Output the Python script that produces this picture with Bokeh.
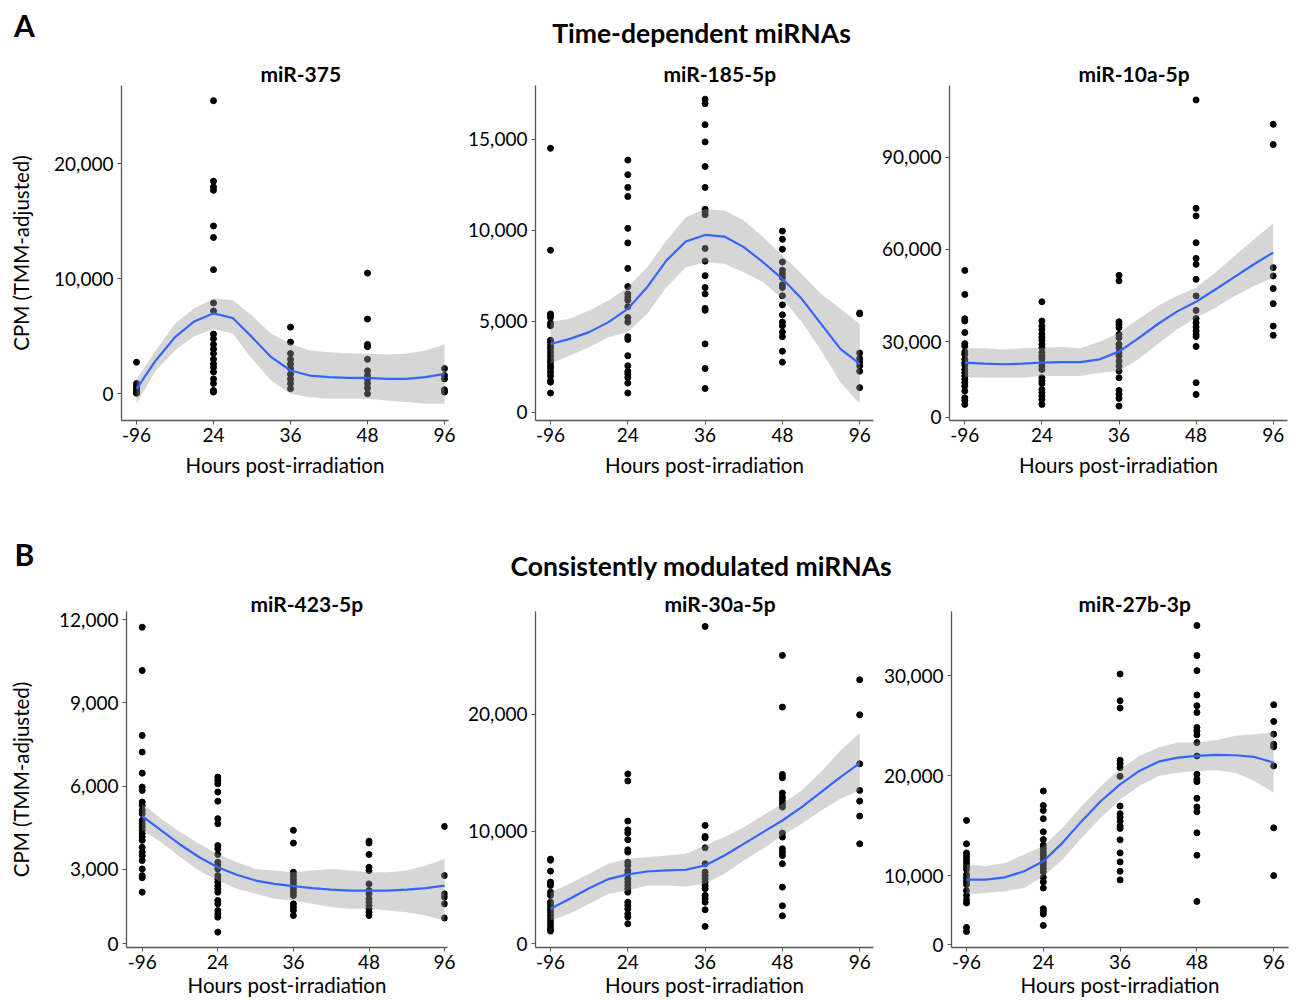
from bokeh.plotting import figure
from bokeh.models import Range1d, FixedTicker
from bokeh.layouts import column, row
from bokeh.embed import file_html
from bokeh.resources import INLINE
from bokeh.core.properties import value

FONT = "Lato"

# ---------------- data ----------------
hours = ["-96", "24", "36", "48", "96"]
x_label = "Hours post-irradiation"
y_label = "CPM (TMM-adjusted)"
section_a = "Time-dependent miRNAs"
section_b = "Consistently modulated miRNAs"
names = ["miR-375", "miR-185-5p", "miR-10a-5p", "miR-423-5p", "miR-30a-5p", "miR-27b-3p"]

# positions (in category units) where the smooth curve was read
fit_pos = [1.0, 1.25, 1.5, 1.75, 2.0, 2.25, 2.5, 2.75, 3.0, 3.25, 3.5, 3.75, 4.0, 4.25, 4.5, 4.75, 5.0]

# miR-375
mir375_pts = [
    [2750, 900, 700, 500, 350, 200, 100, 50],
    [25500, 18500, 18000, 17700, 14600, 13600, 10800, 7900, 7200, 5200, 4800, 4300, 3900, 3500, 3000, 2600, 2300, 1900, 1300, 900, 300, 150],
    [5800, 4500, 3500, 3000, 2600, 2200, 1700, 1300, 900, 450],
    [10500, 6500, 4300, 4100, 3000, 2000, 1600, 1300, 900, 500, 0],
    [2200, 1600, 1300, 350, 150],
]
mir375_fit = [430, 2900, 4930, 6300, 7000, 6600, 4930, 3190, 2030, 1590, 1450, 1390, 1390, 1300, 1300, 1450, 1740]
mir375_hi = [1300, 3770, 6090, 7450, 8300, 8150, 6810, 5220, 4350, 3770, 3620, 3540, 3480, 3420, 3480, 3770, 4290]
mir375_lo = [-870, 2030, 3770, 5000, 5650, 5250, 3040, 1160, 0, -290, -430, -430, -430, -580, -720, -870, -870]

# miR-185-5p
mir185_pts = [
    [14500, 8900, 5400, 5300, 5200, 4900, 4750, 3950, 3850, 3650, 3500, 3300, 3100, 2900, 2750, 2550, 2400, 2200, 2000, 1750, 1650, 1050],
    [13850, 13050, 12350, 11850, 10100, 9300, 7900, 6900, 6500, 6300, 6150, 5800, 5200, 4950, 4150, 4000, 3100, 2550, 2250, 2100, 1900, 1600, 1050],
    [17200, 16950, 15800, 14850, 13500, 12350, 11150, 11000, 10850, 9000, 8300, 7500, 6850, 6500, 5700, 5600, 3750, 2400, 1300],
    [9950, 9500, 8950, 8250, 7800, 7600, 7400, 7000, 6850, 6400, 5900, 5350, 4950, 4750, 4400, 4150, 3350, 2750],
    [5450, 5400, 3250, 2950, 2750, 2550, 2250, 1350],
]
mir185_fit = [3750, 4030, 4400, 4950, 5680, 6870, 8330, 9380, 9740, 9650, 9070, 8240, 7330, 6230, 4850, 3480, 2660]
mir185_hi = [4950, 5130, 5590, 6140, 6870, 7970, 9430, 10710, 11170, 11080, 10530, 9620, 8610, 7600, 6500, 5680, 4850]
mir185_lo = [2660, 3110, 3570, 4120, 4400, 5400, 6870, 7970, 8240, 8150, 7690, 7140, 6230, 4950, 3390, 1650, 460]

# miR-10a-5p
mir10a_pts = [
    [53200, 45400, 37500, 36750, 33000, 29400, 28600, 26700, 25900, 24300, 23200, 22400, 21000, 19950, 18900, 17800, 16700, 15600, 14000, 11800, 10950, 9650],
    [43000, 36750, 35100, 34000, 32600, 31500, 30500, 29200, 28100, 26500, 25400, 24500, 23200, 22100, 21000, 18300, 17200, 16400, 14500, 13400, 12400, 11300, 9650],
    [51600, 49800, 36500, 35700, 34600, 32400, 31300, 29200, 28100, 26500, 25400, 23700, 22100, 20500, 18300, 14200, 12900, 11600, 9100],
    [108600, 73400, 70900, 62200, 57100, 55200, 50300, 44900, 40200, 37600, 36200, 34800, 33500, 32400, 31700, 28500, 16700, 12900],
    [100700, 94100, 54100, 51400, 47300, 42400, 35100, 32100],
]
mir10a_fit = [23200, 22900, 22700, 22900, 23200, 23400, 23400, 24300, 26800, 31100, 35700, 39800, 43000, 47000, 51100, 55200, 59000]
mir10a_hi = [27900, 27900, 27500, 27900, 28100, 28300, 27900, 30000, 32950, 37300, 41600, 44900, 47600, 52500, 57900, 63300, 68400]
mir10a_lo = [18500, 18300, 18300, 18300, 18900, 18900, 18900, 19900, 20500, 24300, 29200, 34000, 37800, 41100, 44900, 48100, 50800]

# miR-423-5p
mir423_pts = [
    [11730, 10170, 7830, 7230, 6470, 5970, 5850, 5430, 5310, 5130, 5010, 4770, 4650, 4530, 4410, 4290, 4170, 4050, 3800, 3620, 3500, 3320, 3020, 2780, 2700, 2180],
    [6330, 6210, 6090, 5790, 5460, 4830, 4650, 3860, 3740, 3540, 3260, 3140, 3020, 2780, 2660, 2540, 2420, 2300, 2180, 1880, 1760, 1520, 1400, 1280, 740],
    [4410, 3950, 2900, 2780, 2660, 2540, 2420, 2300, 2180, 2060, 1760, 1640, 1520, 1340],
    [4020, 3950, 3540, 3080, 2960, 2480, 2240, 2120, 1940, 1820, 1700, 1580, 1460, 1340],
    [4550, 2780, 2120, 2000, 1760, 1250],
]
mir423_fit = [4920, 4410, 3900, 3450, 3080, 2810, 2600, 2480, 2400, 2330, 2270, 2240, 2240, 2240, 2270, 2330, 2420]
mir423_hi = [5370, 4830, 4350, 3930, 3560, 3260, 3020, 2960, 2900, 2960, 3020, 2960, 2900, 2900, 2960, 3140, 3380]
mir423_lo = [4410, 3980, 3450, 2960, 2600, 2300, 2120, 1940, 1880, 1760, 1640, 1580, 1580, 1520, 1460, 1340, 1160]

# miR-30a-5p
mir30a_pts = [
    [7600, 7500, 6570, 5630, 5490, 5340, 4770, 4490, 3910, 3630, 3340, 3060, 2770, 2490, 2200, 1910, 1630, 1430],
    [14900, 14300, 10860, 10110, 9830, 9260, 8400, 8200, 7340, 7060, 6630, 6340, 5910, 5630, 5340, 5060, 4770, 3910, 3630, 3340, 2910, 2630, 2060],
    [27540, 10490, 9540, 9430, 8570, 7200, 6490, 6200, 5910, 5630, 5340, 5060, 4490, 4200, 3910, 3260, 1830],
    [25060, 20630, 14860, 14570, 13260, 12910, 12630, 12340, 12060, 9830, 9490, 8490, 8200, 7910, 7200, 5200, 3600, 2740],
    [22970, 19970, 15770, 13490, 12570, 11290, 8910],
]
mir30a_fit = [3340, 4200, 5110, 5890, 6290, 6540, 6630, 6690, 7060, 7910, 8910, 9910, 10910, 12060, 13340, 14630, 15830]
mir30a_hi = [4770, 5490, 6340, 7200, 7630, 7770, 7910, 8060, 8770, 9490, 10340, 11340, 12340, 13490, 15060, 16910, 18400]
mir30a_lo = [2340, 2910, 3770, 4630, 4910, 5340, 5340, 5260, 5490, 6340, 7490, 8490, 9630, 10630, 11770, 12770, 13490]

# miR-27b-3p
mir27b_pts = [
    [15520, 13180, 12270, 11940, 11610, 11270, 10940, 10600, 10100, 9770, 9430, 9100, 8500, 8030, 7590, 7260, 4820, 4410],
    [18460, 17020, 16520, 15690, 14380, 13610, 13040, 12710, 12370, 12040, 11710, 11370, 11040, 10700, 10370, 9830, 9360, 8760, 6690, 6420, 6150, 5020],
    [30170, 27490, 26760, 21540, 21200, 20800, 19930, 16960, 16190, 15850, 15450, 14950, 14720, 13580, 12270, 11370, 10430, 9570],
    [35020, 32010, 30500, 28060, 26990, 26320, 24820, 24480, 24080, 23310, 21970, 20130, 19630, 19400, 17730, 16860, 16390, 14280, 12040, 7420],
    [27090, 25420, 24150, 23140, 22880, 20970, 14780, 10000],
]
mir27b_fit = [9600, 9600, 9830, 10430, 11440, 13280, 15450, 17460, 19130, 20470, 21400, 21810, 21970, 22070, 22040, 21870, 21300]
mir27b_hi = [11100, 10930, 11270, 12110, 12940, 14780, 16950, 18960, 20630, 21970, 22810, 23310, 23310, 23540, 23980, 24140, 24310]
mir27b_lo = [8160, 8260, 8430, 8760, 9930, 11600, 13780, 15780, 17620, 18960, 19960, 20300, 20470, 20530, 20300, 19460, 18290]

# y-axis ticks: value -> label
ticks_375 = {0: "0", 10000: "10,000", 20000: "20,000"}
ticks_185 = {0: "0", 5000: "5,000", 10000: "10,000", 15000: "15,000"}
ticks_10a = {5490: "0", 30000: "30,000", 60000: "60,000", 90000: "90,000"}
ticks_423 = {320: "0", 3000: "3,000", 6000: "6,000", 9000: "9,000", 12000: "12,000"}
ticks_30a = {343: "0", 10000: "10,000", 20000: "20,000"}
ticks_27b = {3110: "0", 10000: "10,000", 20000: "20,000", 30000: "30,000"}

# ---------------- styling / layout ----------------
AXIS_COLOR = "#555555"
TICK_FS = "19px"
LABEL_FS = "20.5px"
TITLE_FS = "21px"


def make_panel(name, pts, fit, hi, lo, ticks, ylim, geo, rowgeo, ylab_standoff):
    width, mb_left, mb_right, cat0, spacing, title_off = geo
    height, mb_top, mb_bottom, title_standoff, xlab_standoff = rowgeo
    frame_left = mb_left
    frame_right = width - mb_right
    x0 = 1 - (cat0 - frame_left) / spacing
    x1 = len(hours) + (frame_right - (cat0 + (len(hours) - 1) * spacing)) / spacing
    p = figure(width=width, height=height, output_backend="svg", toolbar_location=None,
               x_range=Range1d(x0, x1), y_range=Range1d(*ylim),
               min_border_left=mb_left, min_border_right=mb_right,
               min_border_top=mb_top, min_border_bottom=mb_bottom, title=name)
    p.outline_line_color = None
    p.xgrid.visible = False
    p.ygrid.visible = False
    p.background_fill_color = "white"
    p.border_fill_color = "white"

    p.title.align = "left"
    p.title.offset = title_off
    p.title.standoff = title_standoff
    p.title.vertical_align = "bottom"
    p.title.text_font = FONT
    p.title.text_font_size = TITLE_FS
    p.title.text_font_style = "bold"
    p.title.text_color = "black"

    xs, ys = [], []
    for i, vals in enumerate(pts):
        xs += [i + 1] * len(vals)
        ys += vals
    p.scatter(xs, ys, size=6, color="black")
    p.varea(x=fit_pos, y1=lo, y2=hi, fill_color="#999999", fill_alpha=0.4)
    p.line(fit_pos, fit, line_color="#3366FF", line_width=2.2)

    xa = p.xaxis[0]
    xa.ticker = FixedTicker(ticks=list(range(1, len(hours) + 1)))
    xa.major_label_overrides = {i + 1: h for i, h in enumerate(hours)}
    xa.axis_label = x_label
    xa.axis_label_standoff = xlab_standoff
    xa.major_label_standoff = 3
    ya = p.yaxis[0]
    ya.ticker = FixedTicker(ticks=list(ticks.keys()))
    ya.major_label_overrides = dict(ticks)
    ya.major_label_standoff = 4
    if ylab_standoff is not None:
        ya.axis_label = y_label
        ya.axis_label_standoff = ylab_standoff
    for ax in (xa, ya):
        ax.axis_line_color = AXIS_COLOR
        ax.axis_line_width = 1.3
        ax.major_tick_line_color = AXIS_COLOR
        ax.major_tick_out = 4
        ax.major_tick_in = 0
        ax.minor_tick_line_color = None
        ax.major_label_text_font = FONT
        ax.major_label_text_font_size = TICK_FS
        ax.major_label_text_color = "black"
        ax.axis_label_text_font = FONT
        ax.axis_label_text_font_size = LABEL_FS
        ax.axis_label_text_font_style = "normal"
        ax.axis_label_text_color = "black"
    return p


def make_header(top, bottom, letter, letter_y, title, title_y):
    h = figure(width=1300, height=bottom - top, output_backend="svg", toolbar_location=None,
               x_range=Range1d(0, 1300), y_range=Range1d(bottom, top),
               min_border=0, x_axis_type=None, y_axis_type=None)
    h.outline_line_color = None
    h.xgrid.visible = False
    h.ygrid.visible = False
    h.text(x=[24], y=[letter_y], text=[letter], text_font=value(FONT), text_font_size="30px",
           text_font_style="bold", text_align="center", text_baseline="middle", text_color="black")
    h.text(x=[701], y=[title_y], text=[title], text_font=value(FONT), text_font_size="26.5px",
           text_font_style="bold", text_align="center", text_baseline="middle", text_color="black")
    return h


# height, min_border_top, min_border_bottom, title standoff, x-label standoff
row1 = (477, 32, 110, 0, 8)
row2 = (420, 31, 53, -8, 1)

# panel geometry: width, border left, border right, first category px, category px, title offset
p1 = make_panel(names[0], mir375_pts, mir375_fit, mir375_hi, mir375_lo, ticks_375, (-2320, 26820),
                (458, 121, 10, 136, 77, 139), row1, 18)
p2 = make_panel(names[1], mir185_pts, mir185_fit, mir185_hi, mir185_lo, ticks_185, (-456, 17950),
                (420, 77, 5, 92, 77.3, 128), row1, None)
p3 = make_panel(names[2], mir10a_pts, mir10a_fit, mir10a_hi, mir10a_lo, ticks_10a, (4420, 113300),
                (422, 71, 13, 86.3, 77.1, 129), row1, None)
p4 = make_panel(names[3], mir423_pts, mir423_fit, mir423_hi, mir423_lo, ticks_423, (187, 12297),
                (458, 126, 11, 141.7, 75.6, 124), row2, 23)
p5 = make_panel(names[4], mir30a_pts, mir30a_fit, mir30a_hi, mir30a_lo, ticks_30a, (26, 28821),
                (420, 77, 5, 92, 77.3, 129), row2, None)
p6 = make_panel(names[5], mir27b_pts, mir27b_fit, mir27b_hi, mir27b_lo, ticks_27b, (2810, 36420),
                (422, 73, 12, 88, 76.8, 127), row2, None)

h1 = make_header(0, 53, "A", 24, section_a, 32)
h2 = make_header(530, 580, "B", 553, section_b, 565)

layout = column(h1, row(p1, p2, p3, spacing=0), h2, row(p4, p5, p6, spacing=0), spacing=0)

with open("out.html", "w") as f:
    f.write(file_html(layout, INLINE))
